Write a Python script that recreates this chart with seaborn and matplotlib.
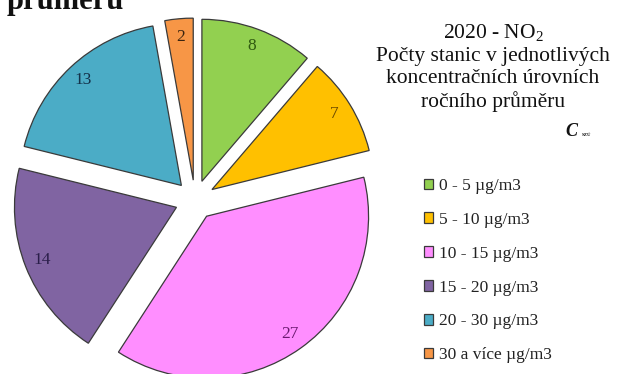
import matplotlib
matplotlib.use("Agg")
import matplotlib.pyplot as plt
import seaborn as sns

# Number of stations per annual-mean NO2 concentration level (2020)
categories = ["0 - 5 µg/m3", "5 - 10 µg/m3", "10 - 15 µg/m3",
              "15 - 20 µg/m3", "20 - 30 µg/m3", "30 a více µg/m3"]
counts = [8, 7, 27, 14, 13, 2]
slice_colors = ["#92D050", "#FFC000", "#FF8EFF", "#8064A2", "#4BACC6", "#F79646"]
label_colors = ["#2f5a10", "#6b4a00", "#6a1a70", "#2a1e4a", "#14324a", "#3a2410"]

sns.set_theme(style="white")
plt.rcParams["font.family"] = ["Liberation Serif", "DejaVu Serif"]
plt.rcParams["mathtext.fontset"] = "custom"
plt.rcParams["mathtext.rm"] = "Liberation Serif"

W, H = 618, 374
fig = plt.figure(figsize=(W / 100, H / 100), dpi=100)
fig.patch.set_facecolor("white")

# pie axes spanning the whole figure; one data unit = R pixels
R = 162.0
cx, cy = 195.0, H - 200.0
ax = fig.add_axes([0, 0, 1, 1])

palette = sns.color_palette(slice_colors)
wedges, texts, autotexts = ax.pie(
    counts,
    colors=palette,
    startangle=90,
    counterclock=False,
    explode=[0.123] * len(counts),
    radius=1.0,
    center=(0, 0),
    autopct=lambda p: f"{round(p * sum(counts) / 100):d}",
    pctdistance=0.89,
    wedgeprops=dict(edgecolor="#3a3a3a", linewidth=0.9),
    textprops=dict(fontsize=12.5),
)
for t, c in zip(autotexts, label_colors):
    t.set_color(c)

ax.set_xlim(-cx / R, (W - cx) / R)
ax.set_ylim(-cy / R, (H - cy) / R)
ax.set_aspect("equal")
ax.axis("off")

# chart title block
fig.text(493 / W, 1 - 67 / H,
         "2020 - NO$_{\\mathregular{2}}$\nPočty stanic v jednotlivých\n"
         "koncentračních úrovních\nročního průměru",
         ha="center", va="center", fontsize=15.5, linespacing=1.22, color="#111111")

# small institute logo under the title
fig.text(571 / W, 1 - 131 / H, "C", ha="center", va="center", fontsize=13,
         fontweight="bold", fontstyle="italic", color="#111111")
fig.text(587 / W, 1 - 135 / H, "SZÚ", ha="center", va="center", fontsize=3.5,
         fontweight="bold", color="#111111")

# cut-off heading line at the top edge
fig.text(7 / W, 1 - 9 / H, "průměru", ha="left", va="baseline",
         fontsize=22, fontweight="bold", color="#111111")

leg = fig.legend(
    wedges, categories,
    loc="upper left",
    bbox_to_anchor=(417 / W, 1 - 171 / H),
    frameon=False,
    fontsize=12.5,
    handlelength=0.55,
    handleheight=0.55,
    handletextpad=0.3,
    labelspacing=1.03,
    borderaxespad=0,
)
for txt in leg.get_texts():
    txt.set_color("#222222")

fig.savefig("out.png", dpi=100, facecolor="white")
